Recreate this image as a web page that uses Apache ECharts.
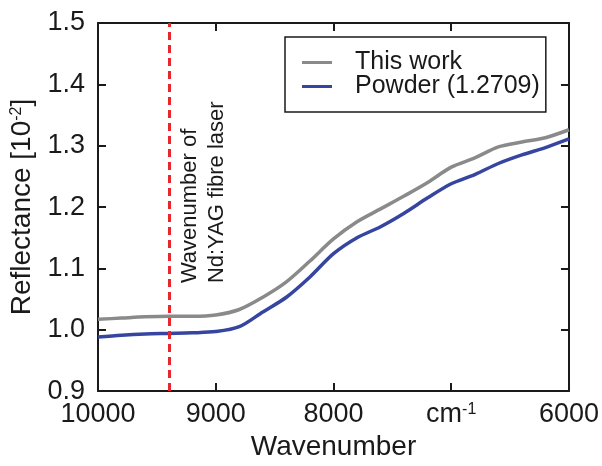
<!DOCTYPE html>
<html>
<head>
<meta charset="utf-8">
<script src="https://cdn.jsdelivr.net/npm/echarts@6/dist/echarts.min.js"></script>
<style>
  html, body { margin: 0; padding: 0; background: #fff; }
  #main { width: 602px; height: 466px; }
</style>
</head>
<body>
<div id="main"></div>
<script>
// wavenumber (cm-1)
var wavenumbers = [10000, 9800, 9600, 9400, 9200, 9000, 8800, 8600, 8400, 8200, 8000,
                   7800, 7600, 7400, 7200, 7000, 6800, 6600, 6400, 6200, 6000]
// reflectance [10^-2]
var thisWork = [1.017, 1.019, 1.021, 1.022, 1.022, 1.024, 1.033, 1.053, 1.078, 1.112, 1.148,
                1.176, 1.197, 1.218, 1.240, 1.265, 1.280, 1.298, 1.306, 1.313, 1.326]
var powder   = [0.988, 0.991, 0.993, 0.994, 0.995, 0.997, 1.005, 1.029, 1.053, 1.086, 1.124,
                1.150, 1.168, 1.190, 1.215, 1.238, 1.253, 1.271, 1.285, 1.297, 1.311]
var seriesNames = ['This work', 'Powder (1.2709)']
var laserWavenumber = 9398
var xTicks = [10000, 9000, 8000, 7000, 6000]
var yTicks = [0.9, 1.0, 1.1, 1.2, 1.3, 1.4, 1.5]

var FONT = 'Liberation Sans, Arial, sans-serif'
var INK = '#1a1a1a'

function pairs(xs, ys) {
  var out = []
  for (var i = 0; i < xs.length; i++) out.push([xs[i], ys[i]])
  return out
}

var chart = echarts.init(document.getElementById('main'), null, { renderer: 'canvas' })

var axisLine = { show: true, lineStyle: { color: INK, width: 2 } }
var axisTick = { show: true, inside: true, length: 8, lineStyle: { color: INK, width: 2 } }

chart.setOption({
  animation: false,
  backgroundColor: '#fff',
  grid: { left: 98, top: 23, right: 33, bottom: 69, containLabel: false },
  legend: {
    orient: 'vertical',
    left: 285,
    top: 37,
    padding: [13, 6, 13, 17],
    itemGap: -1,
    itemWidth: 30,
    itemHeight: 3,
    icon: 'rect',
    borderColor: INK,
    borderWidth: 1.5,
    data: seriesNames,
    textStyle: { fontFamily: FONT, fontSize: 25, lineHeight: 25, color: INK, padding: [0, 0, 0, 18] }
  },
  xAxis: [{
    type: 'value',
    inverse: true,
    min: 6000,
    max: 10000,
    interval: 1000,
    position: 'bottom',
    name: 'Wavenumber',
    nameLocation: 'middle',
    nameGap: 25,
    nameTextStyle: { fontFamily: FONT, fontSize: 28, color: INK },
    axisLine: axisLine,
    axisTick: axisTick,
    splitLine: { show: false },
    axisLabel: {
      margin: 10,
      fontFamily: FONT,
      fontSize: 27,
      color: INK,
      formatter: function (v) {
        if (v === 7000) return '{n|cm}{sup|-1}'
        return xTicks.indexOf(v) >= 0 ? String(v) : ''
      },
      rich: {
        n: { fontFamily: FONT, fontSize: 27, color: INK },
        sup: { fontFamily: FONT, fontSize: 16, color: INK, verticalAlign: 'top' }
      }
    }
  }, {
    type: 'value',
    inverse: true,
    min: 6000,
    max: 10000,
    interval: 1000,
    position: 'top',
    axisLine: axisLine,
    axisTick: axisTick,
    axisLabel: { show: false },
    splitLine: { show: false }
  }],
  yAxis: [{
    type: 'value',
    min: 0.9,
    max: 1.5,
    interval: 0.1,
    position: 'left',
    name: 'Reflectance [10{sup|-2}]',
    nameLocation: 'middle',
    nameGap: 58,
    nameTextStyle: {
      fontFamily: FONT, fontSize: 28, color: INK,
      rich: { sup: { fontFamily: FONT, fontSize: 16, color: INK, verticalAlign: 'top' } }
    },
    axisLine: axisLine,
    axisTick: axisTick,
    splitLine: { show: false },
    axisLabel: {
      margin: 13,
      fontFamily: FONT,
      fontSize: 27,
      color: INK,
      formatter: function (v) { return v.toFixed(1) }
    }
  }, {
    type: 'value',
    min: 0.9,
    max: 1.5,
    interval: 0.1,
    position: 'right',
    axisLine: axisLine,
    axisTick: axisTick,
    axisLabel: { show: false },
    splitLine: { show: false }
  }],
  series: [{
    name: seriesNames[0],
    type: 'line',
    xAxisIndex: 0,
    yAxisIndex: 0,
    data: pairs(wavenumbers, thisWork),
    showSymbol: false,
    smooth: 0.3,
    color: '#8a8a8a',
    lineStyle: { color: '#8a8a8a', width: 3.5 },
    markLine: {
      silent: true,
      symbol: 'none',
      label: { show: false },
      lineStyle: { color: '#e8262c', type: [8, 5], width: 3 },
      data: [{ xAxis: laserWavenumber }]
    }
  }, {
    name: seriesNames[1],
    type: 'line',
    xAxisIndex: 0,
    yAxisIndex: 0,
    data: pairs(wavenumbers, powder),
    showSymbol: false,
    smooth: 0.3,
    color: '#3545a0',
    lineStyle: { color: '#3545a0', width: 3.5 }
  }]
})

// vertical note next to the laser line
var p = chart.convertToPixel({ xAxisIndex: 0, yAxisIndex: 0 }, [laserWavenumber, 1.076])
chart.setOption({
  graphic: [{
    type: 'text',
    x: p[0] + 8,
    y: p[1],
    rotation: Math.PI / 2,
    style: {
      text: 'Wavenumber of\nNd:YAG fibre laser',
      fontFamily: FONT,
      fontSize: 22,
      lineHeight: 27,
      fill: INK,
      align: 'left',
      verticalAlign: 'top'
    }
  }]
})
</script>
</body>
</html>
